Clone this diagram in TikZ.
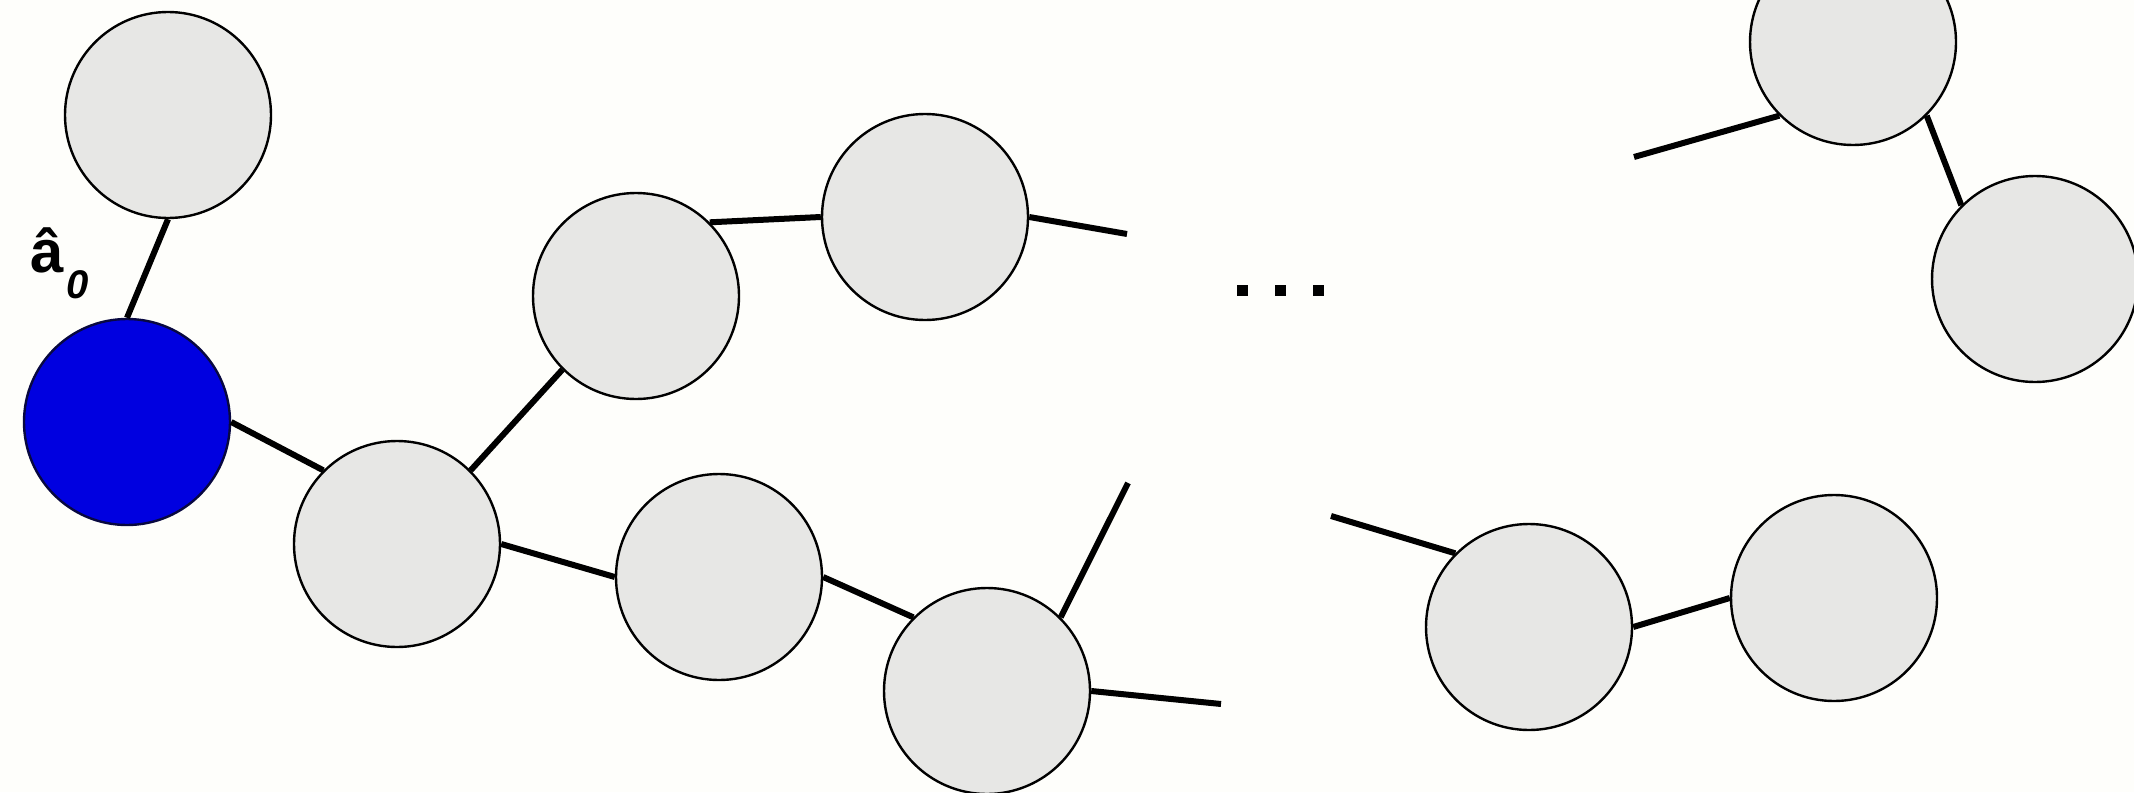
\documentclass[tikz,border=0pt]{standalone}
\usepackage{fontspec}
\setmainfont{Liberation Sans}
\definecolor{bg}{HTML}{FEFEFB}
\definecolor{nodegray}{HTML}{E7E7E5}
\definecolor{nodeblue}{HTML}{0000E0}
\definecolor{blueedge}{HTML}{080840}
\tikzset{
  ball/.style={circle, draw=black, line width=1.2pt, fill=nodegray, minimum size=103pt, inner sep=0pt},
  blueball/.style={ball, fill=nodeblue, draw=blueedge},
  bond/.style={line width=3pt, black},
  dotsq/.style={fill=black, minimum size=5.5pt, inner sep=0pt, rectangle}
}
\begin{document}
\begin{tikzpicture}[x=0.5pt, y=-0.5pt]
\useasboundingbox (0,0) rectangle (2134,792);
\clip (0,0) rectangle (2134,792);
\fill[bg] (0,0) rectangle (2134,792);
% nodes
\node[ball] (tl) at (168,115) {};
\node[blueball] (blue) at (127,422) {};
\node[ball] (c3) at (397,544) {};
\node[ball] (c4) at (636,296) {};
\node[ball] (c5) at (925,217) {};
\node[ball] (c6) at (719,577) {};
\node[ball] (c7) at (987,691) {};
\node[ball] (c8) at (1853,42) {};
\node[ball] (c9) at (2035,279) {};
\node[ball] (c10) at (1529,627) {};
\node[ball] (c11) at (1834,598) {};
% free ends
\coordinate (e1) at (1127,234);
\coordinate (e2) at (1128,483);
\coordinate (e3) at (1221,704);
\coordinate (e4) at (1634,157);
\coordinate (e5) at (1331,516);
% bonds
\draw[bond] (tl.south) -- (blue.north);
\draw[bond] (blue.east) -- (c3.135);
\draw[bond] (c3.45) -- (c4.225);
\draw[bond] (c4.45) -- (c5.180);
\draw[bond] (c5.east) -- (e1);
\draw[bond] (c3.east) -- (c6.west);
\draw[bond] (c6.east) -- (c7.135);
\draw[bond] (c7.45) -- (e2);
\draw[bond] (c7.east) -- (e3);
\draw[bond] (c8.225) -- (e4);
\draw[bond] (c8.315) -- (c9.135);
\draw[bond] (e5) -- (c10.135);
\draw[bond] (c10.east) -- (c11.west);
% ellipsis dots
\node[dotsq] (d1) at (1242,290) {};
\node[dotsq] (d2) at (1280,290) {};
\node[dotsq] (d3) at (1318,290) {};
% label
\node[anchor=base west, inner sep=0pt] (lbl) at (30,272) {\fontsize{30}{30}\selectfont\bfseries â};
\node[anchor=base west, inner sep=0pt] (sub) at (66,298) {\fontsize{20}{20}\selectfont\bfseries\itshape 0};
\end{tikzpicture}
\end{document}
